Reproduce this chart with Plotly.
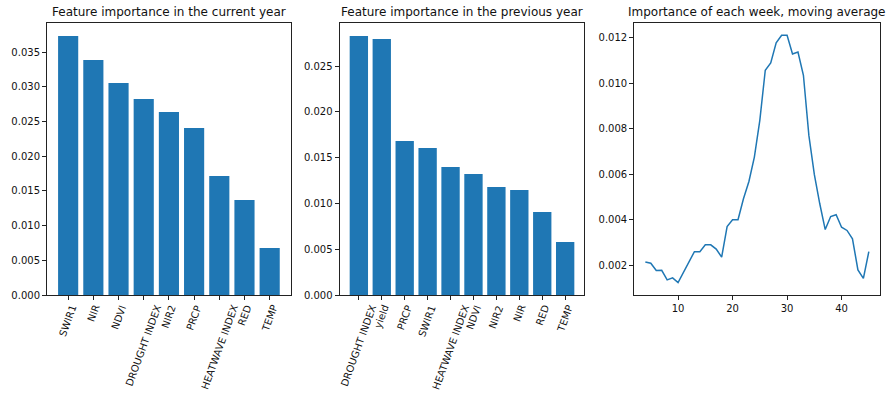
import plotly.graph_objects as go

# ---- data ----
cur_features = ["SWIR1", "NIR", "NDVI", "DROUGHT INDEX", "NIR2", "PRCP",
                "HEATWAVE INDEX", "RED", "TEMP"]
cur_importance = [0.03735, 0.03389, 0.03057, 0.02827, 0.02639, 0.02408,
                  0.01716, 0.01370, 0.00678]

prev_features = ["DROUGHT INDEX", "yield", "PRCP", "SWIR1", "HEATWAVE INDEX",
                 "NDVI", "NIR2", "NIR", "RED", "TEMP"]
prev_importance = [0.02831, 0.02798, 0.01683, 0.01607, 0.01399, 0.01323,
                   0.01181, 0.01148, 0.00907, 0.00579]

weeks = list(range(4, 46))
week_importance = [0.00216, 0.00210, 0.00178, 0.00179, 0.00137, 0.00146,
                   0.00125, 0.00171, 0.00219, 0.00261, 0.00261, 0.00291,
                   0.00291, 0.00272, 0.00237, 0.00371, 0.00401, 0.00401,
                   0.00493, 0.00569, 0.00676, 0.00837, 0.01057, 0.01089,
                   0.01177, 0.01210, 0.01210, 0.01128, 0.01137, 0.01035,
                   0.00771, 0.00600, 0.00471, 0.00358, 0.00415, 0.00423,
                   0.00368, 0.00354, 0.00317, 0.00181, 0.00144, 0.00261]

titles = ["Feature importance in the current year",
          "Feature importance in the previous year",
          "Importance of each week, moving average"]

BLUE = "#1f77b4"
FONT = "DejaVu Sans"

W, H = 892, 396
ML, MR, MT, MB = 44, 11, 23, 101
pw = W - ML - MR
doms = [(44, 289), (338, 584), (634, 881)]
xdoms = [[(a - ML) / pw, (b - ML) / pw] for a, b in doms]

fig = go.Figure()
fig.add_trace(go.Bar(x=cur_features, y=cur_importance, marker_color=BLUE,
                     marker_line_width=0, xaxis="x", yaxis="y"))
fig.add_trace(go.Bar(x=prev_features, y=prev_importance, marker_color=BLUE,
                     marker_line_width=0, xaxis="x2", yaxis="y2"))
fig.add_trace(go.Scatter(x=weeks, y=week_importance, mode="lines",
                         line=dict(color=BLUE, width=1.5),
                         xaxis="x3", yaxis="y3"))

axcommon = dict(showline=True, mirror=True, linecolor="#222", linewidth=1,
                ticks="outside", ticklen=4, tickwidth=1, tickcolor="#222",
                showgrid=False, zeroline=False,
                tickfont=dict(family=FONT, size=10, color="#111"))

def pad(lo, hi, m=0.05):
    d = hi - lo
    return [lo - m * d, hi + m * d]

layout = dict(
    width=W, height=H,
    margin=dict(l=ML, r=MR, t=MT, b=MB),
    paper_bgcolor="white", plot_bgcolor="white",
    showlegend=False, bargap=0.2,
    font=dict(family=FONT, size=10, color="#111"),
)
layout["xaxis"] = dict(axcommon, domain=xdoms[0], anchor="y", type="category",
                       range=[-0.84, len(cur_features) - 1 + 0.84],
                       showticklabels=False)
layout["yaxis"] = dict(axcommon, domain=[0, 1], anchor="x",
                       range=[0, max(cur_importance) * 1.05],
                       dtick=0.005, tickformat=".3f")
layout["xaxis2"] = dict(axcommon, domain=xdoms[1], anchor="y2", type="category",
                        range=[-0.84, len(prev_features) - 1 + 0.84],
                        showticklabels=False)
layout["yaxis2"] = dict(axcommon, domain=[0, 1], anchor="x2",
                        range=[0, max(prev_importance) * 1.05],
                        dtick=0.005, tickformat=".3f")
layout["xaxis3"] = dict(axcommon, domain=xdoms[2], anchor="y3",
                        range=pad(min(weeks), max(weeks)),
                        tickvals=[10, 20, 30, 40])
layout["yaxis3"] = dict(axcommon, domain=[0, 1], anchor="x3",
                        range=pad(min(week_importance), max(week_importance)),
                        dtick=0.002, tick0=0, tickformat=".3f")
fig.update_layout(**layout)

ann = []
for i, t in enumerate(titles):
    ann.append(dict(text=t, xref="paper", yref="paper",
                    x=sum(xdoms[i]) / 2, y=1, xanchor="center", yanchor="bottom",
                    yshift=2, showarrow=False,
                    font=dict(family=FONT, size=12, color="#111")))
for xr, cats in (("x", cur_features), ("x2", prev_features)):
    for c in cats:
        ann.append(dict(text=c, xref=xr, yref="paper", x=c, y=0,
                        xanchor="center", yanchor="top", yshift=-6,
                        textangle=-70, showarrow=False,
                        font=dict(family=FONT, size=10, color="#111")))
fig.update_layout(annotations=ann)

fig.write_html("out.html")
